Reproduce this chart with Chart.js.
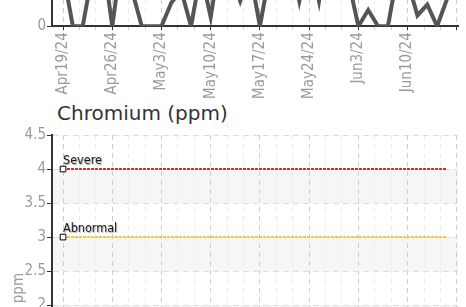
<!DOCTYPE html>
<html>
<head>
<meta charset="utf-8">
<script src="https://cdn.jsdelivr.net/npm/chart.js@4.4.1/dist/chart.umd.min.js"></script>
<style>
  html, body { margin: 0; padding: 0; background: #fff; overflow: hidden; }
  body { width: 466px; height: 307px; position: relative; }
  .box { position: absolute; left: 0; width: 466px; }
  #topBox { top: -210px; }
  #crBox { top: 120px; }
  #crTitle { position: absolute; left: 57px; top: 101px; font: 20px/24px 'DejaVu Sans', sans-serif; color: #333; }
</style>
</head>
<body>
<div id="topBox" class="box"><canvas id="topChart" width="466" height="280"></canvas></div>
<div id="crTitle">Chromium (ppm)</div>
<div id="crBox" class="box"><canvas id="crChart" width="466" height="420"></canvas></div>
<script>
// fechas de muestreo (dias habiles)
const dates = ['Apr19/24', 'Apr22/24', 'Apr23/24', 'Apr24/24', 'Apr25/24', 'Apr26/24', 'Apr29/24', 'Apr30/24',
    'May1/24', 'May2/24', 'May3/24', 'May6/24', 'May7/24', 'May8/24', 'May9/24', 'May10/24',
    'May13/24', 'May14/24', 'May15/24', 'May16/24', 'May17/24', 'May20/24', 'May21/24', 'May22/24',
    'May23/24', 'May24/24', 'May28/24', 'May29/24', 'May30/24', 'May31/24', 'Jun3/24', 'Jun4/24',
    'Jun5/24', 'Jun6/24', 'Jun7/24', 'Jun10/24', 'Jun11/24', 'Jun12/24', 'Jun13/24', 'Jun14/24'];

// serie del grafico superior (solo se ve la parte baja)
const topSeries = [3, 0, 0, 3, 4, 0, 4, 2, 0, 0, 0, 1.3, 2, 0, 3, 0.5, 4, 3, 1.4, 3,
    0, 3, 5, 4, 1.4, 4, 1.4, 5, 4, 2.5, 0, 0.9, 0, 0, 3, 2.5, 0.6, 1.2, 0, 1.5];
const topTicks = [0, 2, 4, 6, 8, 10];

// limites de cromo
const severeLimit = [4, 4, 4, 4, 4, 4, 4, 4, 4, 4, 4, 4, 4, 4, 4, 4, 4, 4, 4, 4,
    4, 4, 4, 4, 4, 4, 4, 4, 4, 4, 4, 4, 4, 4, 4, 4, 4, 4, 4, 4];
const abnormalLimit = [3, 3, 3, 3, 3, 3, 3, 3, 3, 3, 3, 3, 3, 3, 3, 3, 3, 3, 3, 3,
    3, 3, 3, 3, 3, 3, 3, 3, 3, 3, 3, 3, 3, 3, 3, 3, 3, 3, 3, 3];
const crTicks = [0, 0.5, 1, 1.5, 2, 2.5, 3, 3.5, 4, 4.5];

const narrow = "'Liberation Sans Narrow', 'DejaVu Sans Condensed', sans-serif";
Chart.defaults.font.family = narrow;

const toPoints = (arr) => arr.map((v, i) => ({ x: i, y: v }));
const isMajor = (v) => Math.abs(v / 5 - Math.round(v / 5)) < 1e-6;

// lineas menores cada 5/3 de dia
const minorSteps = [];
for (let k = 0; k <= 24; k++) minorSteps.push(k * 5 / 3);

function ejeX() {
    return {
        type: 'linear',
        min: -1.12,
        max: 40.12,
        afterBuildTicks: (scale) => { scale.ticks = minorSteps.map(v => ({ value: v })); },
        // sin relleno extra a los lados por las etiquetas giradas
        afterFit: (scale) => { scale.paddingLeft = 0; scale.paddingRight = 0; },
        ticks: {
            autoSkip: false,
            maxRotation: 90,
            minRotation: 90,
            padding: 2,
            color: '#9a9a9a',
            font: { size: 15 },
            callback: (v) => isMajor(v) ? (dates[Math.round(v)] || '') : ''
        },
        grid: {
            color: (ctx) => isMajor(ctx.tick.value) ? '#cfcfcf' : '#ececec',
            tickColor: (ctx) => isMajor(ctx.tick.value) ? '#333' : '#cfcfcf',
            tickLength: 4
        },
        border: { color: '#333', width: 2, dash: [5, 4] }
    };
}

function ejeY(ticks, step, title) {
    return {
        min: ticks[0],
        max: ticks[ticks.length - 1],
        afterFit: (scale) => { scale.width = 52; },
        ticks: { stepSize: step, color: '#9a9a9a', font: { size: 15 }, padding: 1, callback: (v) => String(v) },
        grid: { color: '#dedede', tickColor: '#333', tickLength: 5 },
        border: { color: '#333', width: 2, dash: [6, 4] },
        title: { display: !!title, text: title, color: '#9a9a9a', font: { size: 15 }, padding: { top: 10, bottom: 4 } }
    };
}

// bandas grises alternas
const bandas = {
    id: 'bandas',
    beforeDraw(chart) {
        const { ctx, chartArea, scales: { y } } = chart;
        ctx.save();
        ctx.fillStyle = '#f6f6f6';
        for (let i = 0; i < y.ticks.length - 1; i++) {
            if (i % 2 !== 1) continue;
            const y1 = y.getPixelForValue(y.ticks[i + 1].value);
            const y2 = y.getPixelForValue(y.ticks[i].value);
            ctx.fillRect(chartArea.left, y1, chartArea.right - chartArea.left, y2 - y1);
        }
        ctx.restore();
    }
};

// etiqueta al inicio de cada limite
const etiquetas = {
    id: 'etiquetas',
    afterDatasetsDraw(chart) {
        const { ctx } = chart;
        ctx.save();
        ctx.font = "12.5px " + narrow;
        ctx.textBaseline = 'alphabetic';
        ctx.fillStyle = '#1a1a1a';
        ctx.shadowColor = 'rgba(0,0,0,0.35)';
        ctx.shadowOffsetX = 1;
        ctx.shadowOffsetY = 1;
        ctx.shadowBlur = 1;
        chart.data.datasets.forEach((ds, i) => {
            const p = chart.getDatasetMeta(i).data[0];
            ctx.fillText(ds.label, p.x, p.y - 5);
        });
        ctx.restore();
    }
};

const baseOptions = () => ({
    responsive: false,
    maintainAspectRatio: false,
    animation: false,
    layout: { padding: { left: 0, right: 8, top: 12, bottom: 0 } },
    plugins: { legend: { display: false }, tooltip: { enabled: false } }
});

const topChart = new Chart(document.getElementById('topChart'), {
    type: 'line',
    data: {
        datasets: [{
            label: 'serie',
            data: toPoints(topSeries),
            borderColor: '#555',
            borderWidth: 4,
            pointRadius: 0,
            tension: 0
        }]
    },
    options: { ...baseOptions(), scales: { x: ejeX(), y: ejeY(topTicks, 2, '') } },
    plugins: [bandas]
});

const limite = (label, values, color) => ({
    label: label,
    data: toPoints(values),
    borderColor: color,
    borderWidth: 2,
    borderDash: [3, 1],
    pointStyle: 'rect',
    pointRadius: (ctx) => ctx.dataIndex === 0 ? 4 : 0,
    pointBackgroundColor: '#fff',
    pointBorderColor: '#000',
    pointBorderWidth: 1,
    tension: 0
});

const crChart = new Chart(document.getElementById('crChart'), {
    type: 'line',
    data: {
        datasets: [
            limite('Severe', severeLimit, '#ff1a1a'),
            limite('Abnormal', abnormalLimit, '#ffcc00')
        ]
    },
    options: { ...baseOptions(), scales: { x: ejeX(), y: ejeY(crTicks, 0.5, 'ppm') } },
    plugins: [bandas, etiquetas]
});

// ajustar alto del area de dibujo
function encajar(chart, alto) {
    const a = chart.chartArea;
    const h = chart.height + (alto - (a.bottom - a.top));
    chart.resize(466, Math.round(h));
    chart.update();
}
encajar(topChart, 180);
encajar(crChart, 306);

document.getElementById('topBox').style.top = (26 - topChart.chartArea.bottom) + 'px';
document.getElementById('crBox').style.top = (135 - crChart.chartArea.top) + 'px';
</script>
</body>
</html>
